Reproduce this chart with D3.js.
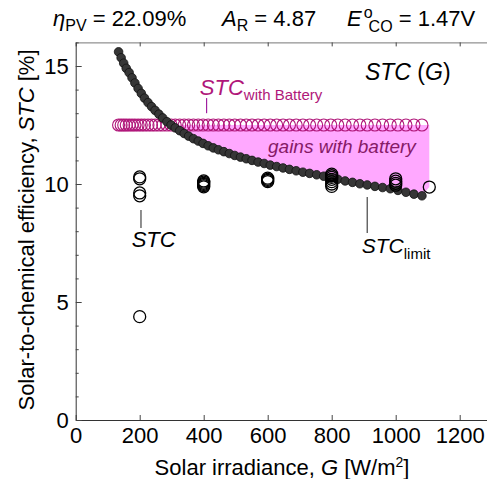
<!DOCTYPE html>
<html>
<head>
<meta charset="utf-8">
<script src="https://cdn.jsdelivr.net/npm/d3@7"></script>
<style>
  body { margin: 0; background: #fff; }
  svg { font-family: "Liberation Sans", Arial, sans-serif; }
</style>
</head>
<body>
<div id="chart-area"></div>
<script>
// Data
// irradiance grid shared by the limit curve and the battery curve
const irradiance = [134, 142, 150, 158, 167, 176, 185, 195, 205, 215, 226, 237, 248, 260, 272, 285,
  298, 311, 325, 339, 353, 368, 383, 398, 414, 430, 446, 463, 480, 497, 515, 533, 551, 570, 589,
  608, 628, 648, 668, 689, 710, 731, 753, 775, 797, 819, 842, 865, 888, 911, 935, 959, 983, 1007,
  1032, 1057, 1082];
const stcLimit = [15.60, 15.35, 15.12, 14.90, 14.72, 14.50, 14.28, 14.05, 13.84, 13.64, 13.45, 13.28,
  13.12, 12.96, 12.80, 12.64, 12.50, 12.38, 12.26, 12.14, 12.03, 11.92, 11.82, 11.72, 11.62, 11.53,
  11.45, 11.37, 11.29, 11.21, 11.14, 11.07, 11.00, 10.93, 10.87, 10.80, 10.74, 10.68, 10.62, 10.56,
  10.50, 10.45, 10.39, 10.33, 10.26, 10.20, 10.13, 10.07, 10.01, 9.96, 9.90, 9.85, 9.80, 9.73,
  9.65, 9.57, 9.50];
const stcBattery = [12.5, 12.5, 12.5, 12.5, 12.5, 12.5, 12.5, 12.5, 12.5, 12.5, 12.5, 12.5, 12.5,
  12.5, 12.5, 12.5, 12.5, 12.5, 12.5, 12.5, 12.5, 12.5, 12.5, 12.5, 12.5, 12.5, 12.5, 12.5, 12.5,
  12.5, 12.5, 12.5, 12.5, 12.5, 12.5, 12.5, 12.5, 12.5, 12.5, 12.5, 12.5, 12.5, 12.5, 12.5, 12.5,
  12.5, 12.5, 12.5, 12.5, 12.5, 12.5, 12.5, 12.5, 12.5, 12.5, 12.5, 12.5];

// measured STC, several runs per irradiance level
const measuredG = [200, 400, 600, 800, 1000, 1105];
const measuredSTC = [
  [10.30, 10.22, 9.62, 9.50, 4.38],
  [10.13, 10.08, 10.03, 9.98, 9.93, 9.88],
  [10.25, 10.20, 10.15, 10.10],
  [10.42, 10.35, 10.28, 10.20, 10.10, 10.00, 9.90],
  [10.22, 10.12, 10.03, 9.95],
  [9.87]
];

const xTicks = [0, 200, 400, 600, 800, 1000, 1200];
const yTicks = [0, 5, 10, 15];
const yMinor = [1, 2, 3, 4, 6, 7, 8, 9, 11, 12, 13, 14, 16];

// Dimensions
const W = 487, H = 479;
const font = "Liberation Sans, Arial, sans-serif";
const pink = "#b0177a";

const svg = d3.select("#chart-area")
  .append("svg")
    .attr("width", W)
    .attr("height", H);

// scales (right edge of the frame runs past the picture)
const x = d3.scaleLinear().domain([0, 1300]).range([75.7, 491.7]);
const y = d3.scaleLinear().domain([0, 16]).range([420, 42.4]);

// gain area between battery line and limit curve
const gainData = irradiance.map((g, i) => ({ g: g, lo: stcLimit[i], hi: stcBattery[i] }))
  .filter(d => d.lo <= d.hi);
gainData.push({ g: measuredG[5], lo: measuredSTC[5][0], hi: stcBattery[stcBattery.length - 1] });

const area = d3.area()
  .x(d => x(d.g))
  .y0(d => y(d.lo))
  .y1(d => y(d.hi));

svg.append("path")
  .datum(gainData)
  .attr("d", area)
  .attr("fill", "#ffa8ff");

// axes
const xAxis = svg.append("g")
  .attr("transform", "translate(0," + y(0) + ")")
  .call(d3.axisBottom(x).tickValues(xTicks).tickFormat(d3.format("d"))
    .tickSizeInner(-5).tickSizeOuter(0).tickPadding(7));
const xTop = svg.append("g")
  .attr("transform", "translate(0," + y(16) + ")")
  .call(d3.axisTop(x).tickValues(xTicks).tickSizeInner(-4).tickSizeOuter(0).tickFormat(""));
const yAxis = svg.append("g")
  .attr("transform", "translate(" + x(0) + ",0)")
  .call(d3.axisLeft(y).tickValues(yTicks).tickSizeInner(-6).tickSizeOuter(0).tickPadding(7));
const yMinorAxis = svg.append("g")
  .attr("transform", "translate(" + x(0) + ",0)")
  .call(d3.axisLeft(y).tickValues(yMinor).tickSizeInner(-3).tickSizeOuter(0).tickFormat(""));

[xAxis, xTop, yAxis, yMinorAxis].forEach(a => {
  a.selectAll("text").attr("font-size", 22).attr("font-family", font).attr("fill", "#000");
  a.selectAll("line").attr("stroke", "#444");
  a.select(".domain").attr("stroke", "#333");
});
xTop.select(".domain").attr("stroke", "#777");
yMinorAxis.select(".domain").remove();

// battery curve, open pink circles
svg.append("g").selectAll("circle")
  .data(irradiance.map((g, i) => ({ g: g, v: stcBattery[i] })))
  .enter().append("circle")
    .attr("cx", d => x(d.g))
    .attr("cy", d => y(d.v))
    .attr("r", 6)
    .attr("fill", "none")
    .attr("stroke", pink)
    .attr("stroke-width", 1.1);

// limit curve, filled dark dots
svg.append("g").selectAll("circle")
  .data(irradiance.map((g, i) => ({ g: g, v: stcLimit[i] })))
  .enter().append("circle")
    .attr("cx", d => x(d.g))
    .attr("cy", d => y(d.v))
    .attr("r", 4.3)
    .attr("fill", "#363636")
    .attr("stroke", "#111")
    .attr("stroke-width", 0.8);

// measured STC, open black circles
const measured = [];
measuredG.forEach((g, i) => measuredSTC[i].forEach(v => measured.push({ g: g, v: v })));
svg.append("g").selectAll("circle")
  .data(measured)
  .enter().append("circle")
    .attr("cx", d => x(d.g))
    .attr("cy", d => y(d.v))
    .attr("r", 6)
    .attr("fill", "none")
    .attr("stroke", "#000")
    .attr("stroke-width", 1.3);

// annotations
function label(gx, sy, size, color) {
  return svg.append("text")
    .attr("x", x(gx))
    .attr("y", y(sy))
    .attr("font-size", size)
    .attr("font-family", font)
    .attr("fill", color);
}
function leader(gx, s1, s2, color) {
  svg.append("line")
    .attr("x1", x(gx)).attr("x2", x(gx))
    .attr("y1", y(s1)).attr("y2", y(s2))
    .attr("stroke", color).attr("stroke-width", 1.2);
}

const bat = label(388, 13.77, 22, pink);
bat.append("tspan").attr("font-style", "italic").text("STC");
bat.append("tspan").attr("font-size", 15).attr("dy", 5).text("with Battery");
leader(409, 13.64, 13.0, "#a020a0");

label(601, 11.31, 19, "#861a66").attr("font-style", "italic").text("gains with battery");

const lim = label(894, 7.08, 21, "#000");
lim.append("tspan").attr("font-style", "italic").text("STC");
lim.append("tspan").attr("font-size", 15).attr("dy", 6).text("limit");
leader(911, 9.45, 7.92, "#444");

label(175, 7.33, 22, "#000").attr("font-style", "italic").text("STC");
leader(204, 8.9, 8.14, "#444");

const stcG = label(904, 14.4, 23, "#000");
stcG.append("tspan").attr("font-style", "italic").text("STC");
stcG.append("tspan").text(" (");
stcG.append("tspan").attr("font-style", "italic").text("G");
stcG.append("tspan").text(")");

// header line
const head = svg.append("text")
  .attr("x", 53)
  .attr("y", 26)
  .attr("font-size", 22)
  .attr("font-family", font)
  .attr("fill", "#000");
head.append("tspan").attr("font-style", "italic").text("η");
head.append("tspan").attr("font-size", 16).attr("dy", 5).text("PV");
head.append("tspan").attr("dy", -5).text(" = 22.09%");
head.append("tspan").attr("x", 222).attr("font-style", "italic").text("A");
head.append("tspan").attr("font-size", 16).attr("dy", 5).text("R");
head.append("tspan").attr("dy", -5).text(" = 4.87");
head.append("tspan").attr("x", 347).attr("font-style", "italic").text("E");
head.append("tspan").attr("font-size", 16).attr("dy", -8).attr("dx", 2).text("o");
head.append("tspan").attr("font-size", 16).attr("dy", 14).attr("dx", -4).text("CO");
head.append("tspan").attr("dy", -6).text(" = 1.47V");

// X label
const xl = svg.append("text")
  .attr("x", 282)
  .attr("y", 475)
  .attr("font-size", 22)
  .attr("font-family", font)
  .attr("text-anchor", "middle");
xl.append("tspan").text("Solar irradiance, ");
xl.append("tspan").attr("font-style", "italic").text("G");
xl.append("tspan").text(" [W/m");
xl.append("tspan").attr("font-size", 14).attr("dy", -8).text("2");
xl.append("tspan").attr("dy", 8).text("]");

// Y label
const yl = svg.append("text")
  .attr("transform", "translate(34,230) rotate(-90)")
  .attr("font-size", 22)
  .attr("font-family", font)
  .attr("text-anchor", "middle");
yl.append("tspan").text("Solar-to-chemical efficiency, ");
yl.append("tspan").attr("font-style", "italic").text("STC");
yl.append("tspan").text(" [%]");
</script>
</body>
</html>
